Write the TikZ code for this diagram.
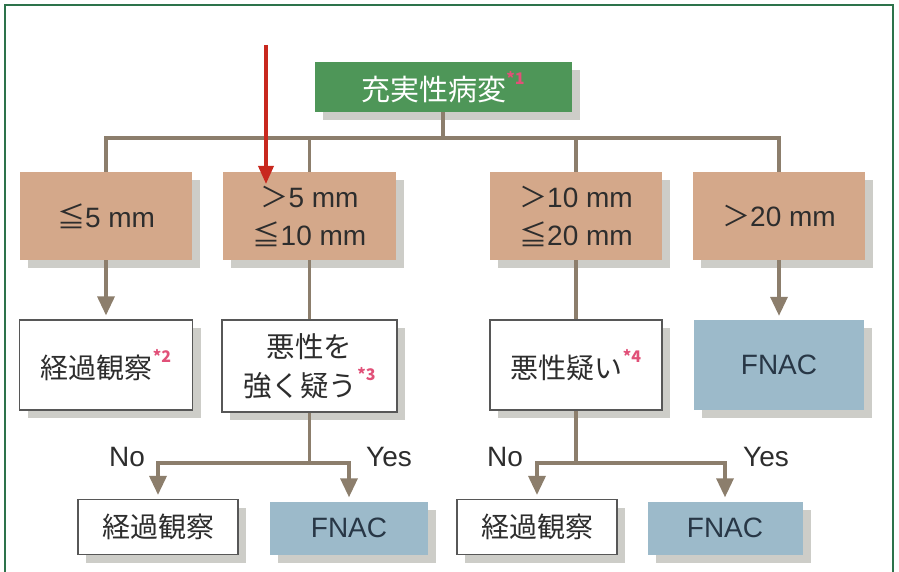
\documentclass[tikz,border=0pt]{standalone}
\usepackage{fontspec}
\setmainfont{Liberation Sans}
\newfontfamily\jp{Noto Sans CJK JP}
\usetikzlibrary{shadows,arrows.meta}
\definecolor{framec}{RGB}{45,115,75}
\definecolor{greenc}{RGB}{78,150,88}
\definecolor{tanc}{RGB}{212,168,138}
\definecolor{bluec}{RGB}{156,186,202}
\definecolor{linec}{RGB}{140,126,108}
\definecolor{shadowc}{RGB}{205,205,200}
\definecolor{txtc}{RGB}{45,45,45}
\definecolor{fnactxt}{RGB}{40,55,70}
\definecolor{markc}{RGB}{225,80,120}
\definecolor{redc}{RGB}{200,40,30}
\newcommand\mk[1]{\textcolor{markc}{\raisebox{0.55em}{\fontsize{16}{16}\selectfont\bfseries *#1}}}
\newcommand\mygt{{\jp ＞}}
\newcommand\myle{{\jp ≦}}
\tikzset{
  basebox/.style={rectangle, inner sep=0pt, align=center, text=txtc,
    font=\fontsize{28}{38}\selectfont,
    drop shadow={shadow xshift=8pt, shadow yshift=-8pt, fill=shadowc, opacity=1}},
  tanbox/.style={basebox, fill=tanc},
  whitebox/.style={basebox, fill=white, draw=txtc!80, line width=1.2pt},
  bluebox/.style={basebox, fill=bluec, text=fnactxt},
  conn/.style={draw=linec, line width=3.4pt},
  arr/.style={conn, -{Triangle[width=17pt,length=19pt]}, shorten >=4pt},
  lbl/.style={text=txtc, font=\fontsize{28}{28}\selectfont, inner sep=0pt}
}
\begin{document}
\begin{tikzpicture}[x=1pt,y=-1pt]
\useasboundingbox (0,0) rectangle (899,572);
\fill[white] (0,0) rectangle (899,572);
\draw[framec, line width=2.2pt] (5,590) -- (5,5) -- (893,5) -- (893,590);

\node[basebox, fill=greenc, text=white, minimum width=257pt, minimum height=50pt,
  font=\fontsize{29}{29}\selectfont] (top) at (443,87) {\jp 充実性病変\mk{1}};

\node[tanbox, minimum width=172pt, minimum height=88pt] (A) at (106,216) {\myle 5 mm};
\node[tanbox, minimum width=173pt, minimum height=88pt] (B) at (309.5,216) {\mygt 5 mm\\\myle 10 mm};
\node[tanbox, minimum width=172pt, minimum height=88pt] (C) at (576,216) {\mygt 10 mm\\\myle 20 mm};
\node[tanbox, minimum width=172pt, minimum height=88pt] (D) at (779,216) {\mygt 20 mm};

\node[whitebox, minimum width=173pt, minimum height=90pt] (A2) at (106,365) {\jp 経過観察\mk{2}};
\node[whitebox, minimum width=175pt, minimum height=92pt, font=\fontsize{28.5}{39}\selectfont] (B2) at (309.5,366) {\jp 悪性を\\\jp 強く疑う\mk{3}};
\node[whitebox, minimum width=172pt, minimum height=90pt] (C2) at (576,365) {\jp 悪性疑い\mk{4}};
\node[bluebox, minimum width=170pt, minimum height=90pt] (D2) at (779,365) {FNAC};

\node[whitebox, minimum width=160pt, minimum height=55pt] (B3a) at (158,527) {\jp 経過観察};
\node[bluebox, minimum width=158pt, minimum height=53pt] (B3b) at (349,528) {FNAC};
\node[whitebox, minimum width=160pt, minimum height=55pt] (C3a) at (537,527) {\jp 経過観察};
\node[bluebox, minimum width=155pt, minimum height=53pt] (C3b) at (725,528) {FNAC};

% top tree
\coordinate (bar) at (443,138);
\draw[conn] (top.south) -- (bar);
\draw[conn] (A.north) -- (A.north |- bar) -- (D.north |- bar) -- (D.north);
\draw[conn] (B.north) -- (B.north |- bar);
\draw[conn] (C.north) -- (C.north |- bar);

% level 1 to 2
\draw[arr] (A.south) -- (A2.north);
\draw[conn] (B.south) -- (B2.north);
\draw[conn] (C.south) -- (C2.north);
\draw[arr] (D.south) -- (D2.north);

% level 2 to 3
\coordinate (bj) at (309.5,463);
\draw[conn] (B2.south) -- (bj);
\draw[arr] (bj) -| (B3a.north);
\draw[arr] (bj) -| (B3b.north);
\coordinate (cj) at (576,463);
\draw[conn] (C2.south) -- (cj);
\draw[arr] (cj) -| (C3a.north);
\draw[arr] (cj) -| (C3b.north);

\node[lbl] (no1) at (127,457) {No};
\node[lbl] (yes1) at (389,457) {Yes};
\node[lbl] (no2) at (505,457) {No};
\node[lbl] (yes2) at (766,457) {Yes};

% red arrow
\coordinate (rs) at (266,45);
\coordinate (re) at (266,184);
\draw[redc, line width=3.4pt, -{Triangle[width=15pt,length=18pt]}] (rs) -- (re);
\end{tikzpicture}
\end{document}
